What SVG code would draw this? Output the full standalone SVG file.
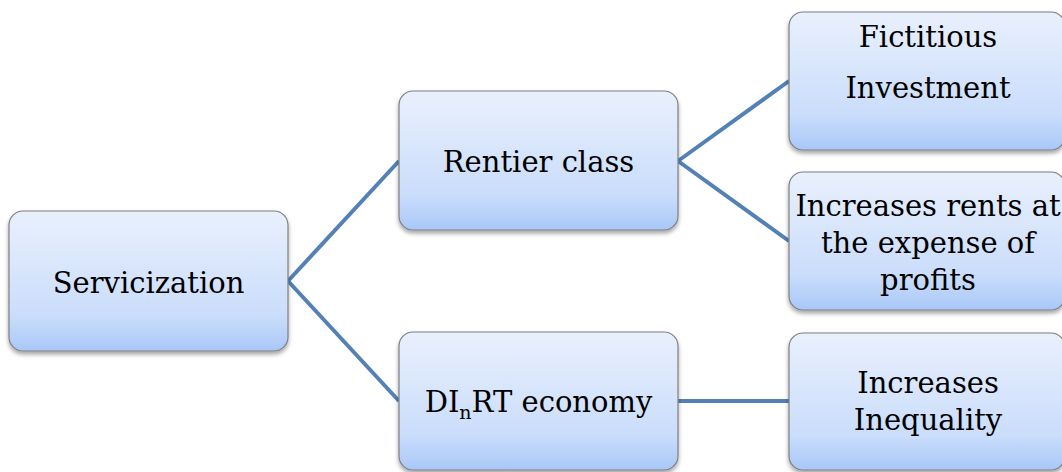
<svg xmlns="http://www.w3.org/2000/svg" width="1062" height="472" viewBox="0 0 1062 472">
<defs>
<linearGradient id="g" x1="0" y1="0" x2="0" y2="1">
<stop offset="0" stop-color="#E9F0FD"/>
<stop offset="0.75" stop-color="#CADDFB"/>
<stop offset="1" stop-color="#A8C7F7"/>
</linearGradient>
<filter id="sh" x="-10%" y="-10%" width="120%" height="130%">
<feDropShadow dx="0" dy="3" stdDeviation="2" flood-color="#000" flood-opacity="0.35"/>
</filter>
</defs>
<style>
.box{fill:url(#g);stroke:#7F7F7F;stroke-width:1.2;filter:url(#sh)}
.t{font-family:"DejaVu Serif","Liberation Serif",serif;font-size:29px;fill:#000;text-anchor:middle}
.c{stroke:#5381B6;stroke-width:4;fill:none}
</style>
<rect width="1062" height="472" fill="#fff"/>
<g id="connectors">
<line class="c" x1="288" y1="281" x2="399" y2="161"/>
<line class="c" x1="288" y1="281" x2="399" y2="401"/>
<line class="c" x1="678" y1="161" x2="789" y2="81"/>
<line class="c" x1="678" y1="161" x2="789" y2="241"/>
<line class="c" x1="678" y1="401" x2="789" y2="401"/>
</g>
<g id="servicization">
<rect class="box" x="9" y="211" width="279" height="140" rx="14"/>
<text class="t" x="148.5" y="293">Servicization</text>
</g>
<g id="rentier">
<rect class="box" x="399" y="91" width="279" height="139" rx="14"/>
<text class="t" x="538.5" y="172">Rentier class</text>
</g>
<g id="dinrt">
<rect class="box" x="399" y="332" width="279" height="138" rx="14"/>
<text class="t" x="538.5" y="412">DI<tspan font-size="19" dy="7">n</tspan><tspan dy="-7">RT economy</tspan></text>
</g>
<g id="fictitious">
<rect class="box" x="789" y="12" width="276" height="138" rx="14"/>
<text class="t" x="928" y="47">Fictitious</text>
<text class="t" x="928" y="98">Investment</text>
</g>
<g id="rents">
<rect class="box" x="789" y="172" width="276" height="138" rx="14"/>
<text class="t" x="928" y="216">Increases rents at</text>
<text class="t" x="928" y="253">the expense of</text>
<text class="t" x="928" y="290">profits</text>
</g>
<g id="inequality">
<rect class="box" x="789" y="333" width="276" height="137" rx="14"/>
<text class="t" x="928" y="393">Increases</text>
<text class="t" x="928" y="430">Inequality</text>
</g>
</svg>
